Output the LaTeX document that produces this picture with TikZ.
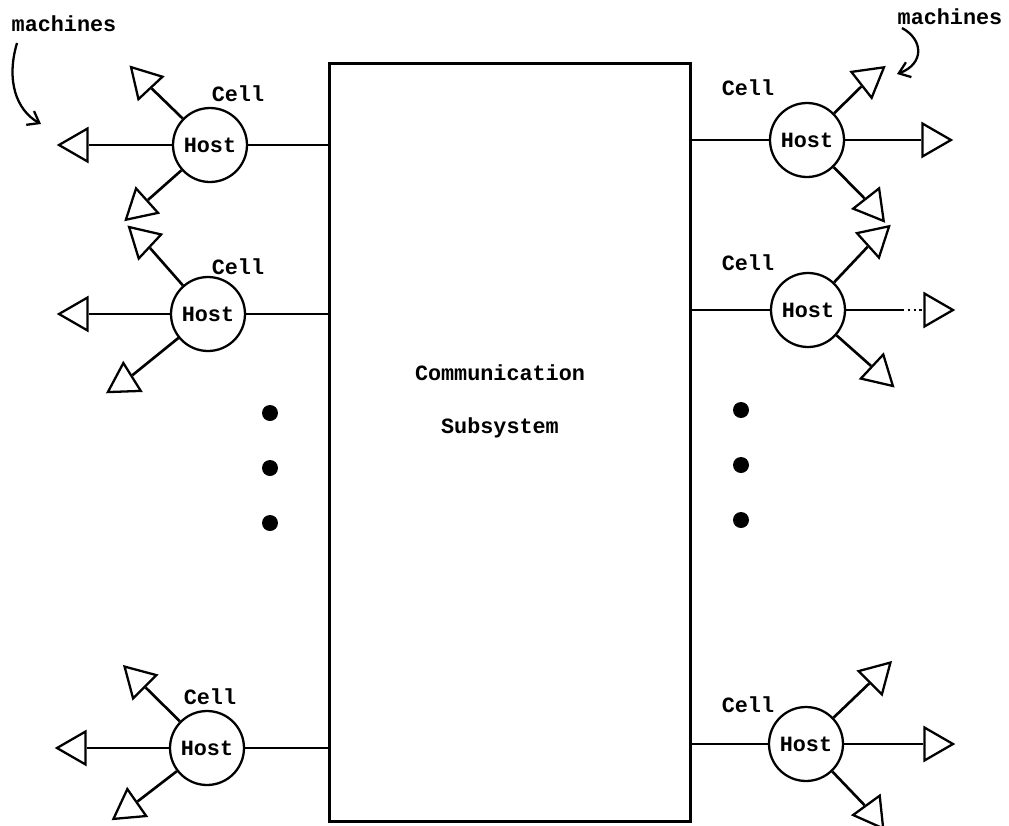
\documentclass[tikz,border=0pt]{standalone}
\usepackage{fontspec}
\setmonofont{Liberation Mono}
\usetikzlibrary{shapes.geometric,arrows.meta}
\newcommand\diagfont{\ttfamily\bfseries\fontsize{12.4}{14}\selectfont}
\begin{document}
\begin{tikzpicture}[x=0.02cm,y=-0.02cm,
  box/.style={draw, line width=1.7pt, minimum width=7.24cm, minimum height=15.18cm, inner sep=0pt},
  host/.style={circle, draw, line width=1.3pt, minimum size=1.48cm, inner sep=0pt, font=\diagfont},
  mach/.style={regular polygon, regular polygon sides=3, draw, line width=1.3pt, minimum size=0.76cm, inner sep=0pt},
  link/.style={line width=1.5pt},
  lbl/.style={font=\diagfont, inner sep=0pt},
  dotn/.style={circle, fill, minimum size=0.32cm, inner sep=0pt},
  curvy/.style={line width=1.3pt, -{Straight Barb[length=6pt,width=9pt,line width=1.3pt]}}]
\useasboundingbox (0,0) rectangle (1009,826);

% central subsystem
\node[box] (cs) at (510,442.5) {};
\node[lbl] (t1) at (500,373) {Communication};
\node[lbl] (t2) at (500,428) {Subsystem};

% left hosts
\node[host] (L1) at (210,145) {Host};
\node[host] (L2) at (208,314) {Host};
\node[host] (L3) at (207,748) {Host};
\node[lbl] (cL1) at (238,94) {Cell};
\node[lbl] (cL2) at (238,267) {Cell};
\node[lbl] (cL3) at (210,697) {Cell};

% right hosts
\node[host] (R1) at (807,140) {Host};
\node[host] (R2) at (808,310) {Host};
\node[host] (R3) at (806,744) {Host};
\node[lbl] (cR1) at (748,88) {Cell};
\node[lbl] (cR2) at (748,263) {Cell};
\node[lbl] (cR3) at (748,705) {Cell};

% links to subsystem
\draw[link] (L1) -- (L1 -| cs.west);
\draw[link] (L2) -- (L2 -| cs.west);
\draw[link] (L3) -- (L3 -| cs.west);
\draw[link] (R1) -- (R1 -| cs.east);
\draw[link] (R2) -- (R2 -| cs.east);
\draw[link] (R3) -- (R3 -| cs.east);

% machines, left
\node[mach, rotate=90]  (L1a) at (78,145) {};
\node[mach, rotate=43]  (L1b) at (144,81) {};
\node[mach, rotate=132] (L1c) at (140,207) {};
\node[mach, rotate=90]  (L2a) at (78,314) {};
\node[mach, rotate=47]  (L2b) at (143,240) {};
\node[mach, rotate=122] (L2c) at (124,382) {};
\node[mach, rotate=90]  (L3a) at (76,748) {};
\node[mach, rotate=45]  (L3b) at (138,680) {};
\node[mach, rotate=125] (L3c) at (129,808) {};
\foreach \h in {L1,L2,L3}{
  \draw[link] (\h) -- (\h a);
  \draw[link] (\h) -- (\h b);
  \draw[link] (\h) -- (\h c);
}

% machines, right
\node[mach, rotate=-90]  (R1a) at (932,140) {};
\node[mach, rotate=-52]  (R1b) at (869,79) {};
\node[mach, rotate=-142] (R1c) at (872,206) {};
\node[mach, rotate=-90]  (R2a) at (934,310) {};
\node[mach, rotate=-48]  (R2b) at (875,239) {};
\node[mach, rotate=-133] (R2c) at (879,373) {};
\node[mach, rotate=-90]  (R3a) at (934,744) {};
\node[mach, rotate=-45]  (R3b) at (877,676) {};
\node[mach, rotate=-144] (R3c) at (872,813) {};
\draw[link] (R1) -- (R1a);
\draw[link] (R1) -- (R1b);
\draw[link] (R1) -- (R1c);
\draw[link] (R2) -- (902,310) coordinate (R2d);
\draw[line width=1.3pt, dotted] (R2d) -- (R2a);
\draw[link] (R2) -- (R2b);
\draw[link] (R2) -- (R2c);
\draw[link] (R3) -- (R3a);
\draw[link] (R3) -- (R3b);
\draw[link] (R3) -- (R3c);

% continuation dots
\node[dotn] (dl1) at (270,413) {};
\node[dotn] (dl2) at (270,468) {};
\node[dotn] (dl3) at (270,523) {};
\node[dotn] (dr1) at (741,410) {};
\node[dotn] (dr2) at (741,465) {};
\node[dotn] (dr3) at (741,520) {};

% machines labels with curved arrows
\node[lbl] (mL) at (64,24) {machines};
\node[lbl] (mR) at (950,17) {machines};
\coordinate (aL) at (17,43);
\coordinate (tL) at (41,124);
\coordinate (aR) at (902,28);
\coordinate (tR) at (897,74);
\draw[curvy] (aL) .. controls (6,80) and (16,110) .. (tL);
\draw[curvy] (aR) .. controls (924,40) and (924,64) .. (tR);
\end{tikzpicture}
\end{document}
